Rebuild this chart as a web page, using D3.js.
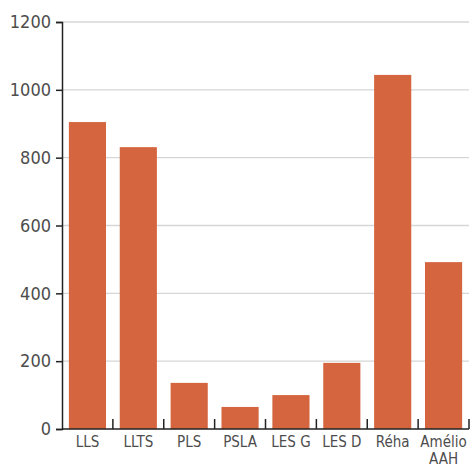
<!DOCTYPE html>
<html>
<head>
<meta charset="utf-8">
<script src="https://cdn.jsdelivr.net/npm/d3@7"></script>
<style>
  html, body { margin: 0; padding: 0; background: #fff; }
  svg { display: block; }
  text { font-family: "DejaVu Sans Condensed", "Liberation Sans Narrow", sans-serif; fill: #4d4d4d; }
</style>
</head>
<body>
<svg id="chart" width="474" height="468"></svg>
<script>
// Categories (label lines) and values
const categories = ["LLS", "LLTS", "PLS", "PSLA", "LES G", "LES D", "Réha", "Amélio AAH"];
const labelLines = [["LLS"], ["LLTS"], ["PLS"], ["PSLA"], ["LES G"], ["LES D"], ["Réha"], ["Amélio", "AAH"]];
const values = [905, 831, 136, 65, 100, 195, 1044, 492];
const yTicks = [0, 200, 400, 600, 800, 1000, 1200];

const svg = d3.select("#chart");
const margin = { left: 62, right: 5, top: 22, bottom: 39 };
const W = 474, H = 468;

const x = d3.scaleBand()
  .domain(categories)
  .range([margin.left, W - margin.right])
  .paddingInner(0.27)
  .paddingOuter(0.135);

const y = d3.scaleLinear()
  .domain([0, 1200])
  .range([H - margin.bottom, margin.top]);

// Horizontal gridlines
svg.append("g")
  .selectAll("line")
  .data(yTicks.filter(d => d > 0))
  .join("line")
  .attr("x1", margin.left)
  .attr("x2", W - margin.right)
  .attr("y1", d => y(d))
  .attr("y2", d => y(d))
  .attr("stroke", "#d6d6d6")
  .attr("stroke-width", 1.3);

// Bars
svg.append("g")
  .selectAll("rect")
  .data(values)
  .join("rect")
  .attr("x", (d, i) => x(categories[i]))
  .attr("width", x.bandwidth())
  .attr("y", d => y(d))
  .attr("height", d => y(0) - y(d))
  .attr("fill", "#d5653f");

// Y axis
const yAxis = svg.append("g")
  .attr("transform", `translate(${margin.left},0)`)
  .call(d3.axisLeft(y).tickValues(yTicks).tickSize(6).tickPadding(5).tickFormat(d3.format("d")));
yAxis.select(".domain").attr("stroke", "#222").attr("stroke-width", 1.5);
yAxis.selectAll(".tick line").attr("stroke", "#222").attr("stroke-width", 1.5);
yAxis.selectAll(".tick text")
  .style("font-size", "18px")
  .style("font-family", "\"DejaVu Sans Condensed\", sans-serif")
  .attr("fill", "#4d4d4d");

// X axis baseline and category separators
const step = x.step();
const base = y(0);
const xg = svg.append("g");
xg.append("line")
  .attr("x1", margin.left)
  .attr("x2", W - margin.right)
  .attr("y1", base)
  .attr("y2", base)
  .attr("stroke", "#222")
  .attr("stroke-width", 1.5);

const bounds = categories.map(c => x(c) + x.bandwidth() + (step - x.bandwidth()) / 2);
xg.selectAll("line.sep")
  .data(bounds)
  .join("line")
  .attr("class", "sep")
  .attr("x1", d => d)
  .attr("x2", d => d)
  .attr("y1", base)
  .attr("y2", base - 10)
  .attr("stroke", "#222")
  .attr("stroke-width", 1.5);

// Category labels
const lab = xg.selectAll("text.cat")
  .data(categories)
  .join("text")
  .attr("class", "cat")
  .attr("text-anchor", "middle")
  .attr("x", c => x(c) + x.bandwidth() / 2)
  .attr("y", base + 18)
  .style("font-size", "15px");
lab.each(function(c, i) {
  const t = d3.select(this);
  labelLines[i].forEach((s, j) => {
    t.append("tspan")
      .attr("x", x(c) + x.bandwidth() / 2)
      .attr("dy", j === 0 ? 0 : 16.5)
      .text(s);
  });
});
</script>
</body>
</html>
